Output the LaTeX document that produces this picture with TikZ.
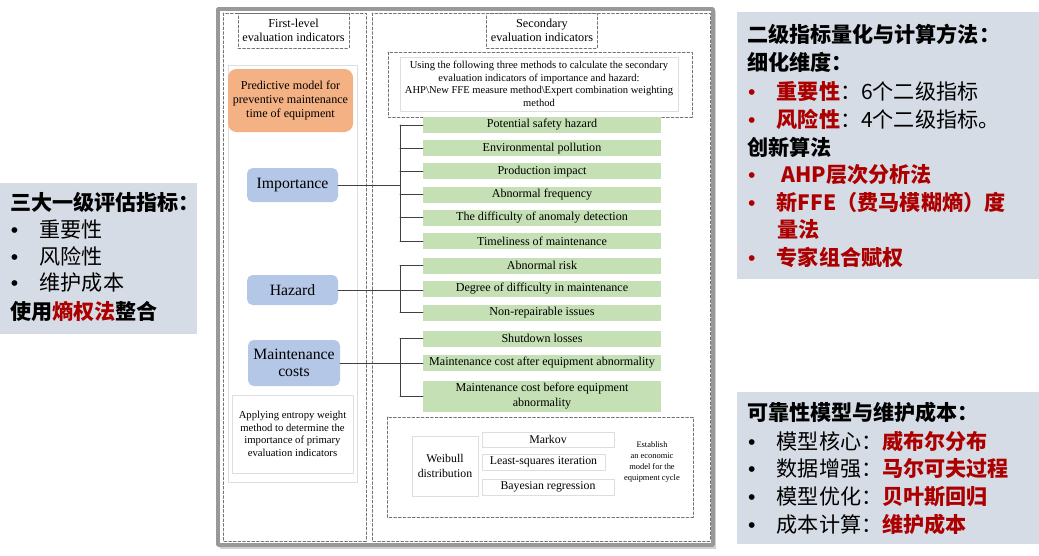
\documentclass[tikz,border=0pt]{standalone}
\usepackage{fontspec}
\setmainfont{Liberation Serif}
\newfontfamily\cjk{Noto Sans CJK SC}
\newfontfamily\dotfont{Liberation Sans}
\usetikzlibrary{positioning}
\definecolor{panelgray}{RGB}{214,220,229}
\definecolor{darkred}{RGB}{172,0,0}
\definecolor{greenfill}{RGB}{197,224,180}
\definecolor{bluefill}{RGB}{180,199,231}
\definecolor{orangefill}{RGB}{244,177,131}
\definecolor{thinline}{RGB}{222,222,222}
\newcommand\itemdot[1]{\makebox[0.72cm][l]{{\dotfont\mdseries #1}}}

\begin{document}
\begin{tikzpicture}[x=0.025cm,y=-0.025cm,line cap=round,line join=round,
    every node/.style={inner sep=0pt,outer sep=0pt},
    dashframe/.style={draw=black!55,line width=0.45pt,dash pattern=on 2pt off 1.3pt},
    headbox/.style={dashframe,minimum width=111*\px,minimum height=35*\px,align=center,font=\fontsize{8.7}{10}\selectfont},
    thinbox/.style={draw=thinline,line width=0.5pt,fill=white,align=center},
    greenbox/.style={fill=greenfill,minimum width=238*\px,minimum height=16*\px,align=center,font=\fontsize{8.6}{10.7}\selectfont},
    firstbox/.style={fill=bluefill,rounded corners=4pt,minimum width=91*\px,align=center,font=\fontsize{11.2}{12}\selectfont},
    link/.style={draw=black!75,line width=0.6pt},
    cn/.style={anchor=base west,font=\cjk\fontsize{15}{17}\selectfont},
    cnb/.style={anchor=base west,font=\cjk\bfseries\fontsize{15}{17}\selectfont}]
  \def\px{0.025cm}
  \useasboundingbox (0,0) rectangle (1039,555);
  % side panels
  \fill[panelgray] (0,183) rectangle (197,334);
  \fill[panelgray] (737,12) rectangle (1039,279);
  \fill[panelgray] (737,392) rectangle (1039,544);
  % framed figure
  \fill[black!18] (220,11) rectangle (716,549);
  \draw[draw=black!40,line width=2.6pt,fill=white] (218,9) rectangle (713,545);
  \draw[dashframe] (223,13) rectangle (366,541);
  \draw[dashframe] (372,13) rectangle (710,541);
  \node[headbox] (hd1) at (293.5,30.5) {First-level\\evaluation indicators};
  \node[headbox] (hd2) at (542,30.5) {Secondary\\evaluation indicators};
  % first-level column
  \draw[thinline,line width=0.5pt] (228,65) rectangle (357,482);
  \node[fill=orangefill,rounded corners=6pt,minimum width=125*\px,minimum height=63*\px,align=center,
        font=\fontsize{8.6}{10}\selectfont] (pred) at (290.5,100.5) {Predictive model for\\preventive maintenance\\time of equipment};
  \node[firstbox,minimum height=34*\px] (imp) at (292.5,185) {Importance};
  \node[firstbox,minimum height=30*\px] (haz) at (292.5,290) {Hazard};
  \node[firstbox,minimum width=92*\px,minimum height=46*\px] (cost) at (294,363) {Maintenance\\costs};
  \node[thinbox,minimum width=121*\px,minimum height=78*\px,font=\fontsize{7.6}{9}\selectfont] (ent) at (292.5,434)
    {Applying entropy weight\\method to determine the\\importance of primary\\evaluation indicators};
  % secondary column
  \draw[dashframe] (388,52) rectangle (692,117);
  \node[thinbox,minimum width=278*\px,minimum height=54*\px,font=\fontsize{7.5}{8.9}\selectfont] (meth) at (539,84)
    {Using the following three methods to calculate the secondary\\evaluation indicators of importance and hazard:\\AHP\textbackslash New FFE measure method\textbackslash Expert combination weighting\\method};
  \foreach \t [count=\i, evaluate=\i as \y using 125+(\i-1)*23.2] in
    {Potential safety hazard,Environmental pollution,Production impact,Abnormal frequency,
     The difficulty of anomaly detection,Timeliness of maintenance}
    \node[greenbox] (g\i) at (542,\y) {\t};
  \foreach \t [count=\i, evaluate=\i as \y using 265.5+(\i-1)*23.5] in
    {Abnormal risk,Degree of difficulty in maintenance,Non-repairable issues}
    \node[greenbox] (h\i) at (542,\y) {\t};
  \node[greenbox] (c1) at (542,338.5) {Shutdown losses};
  \node[greenbox] (c2) at (542,363) {Maintenance cost after equipment abnormality};
  \node[greenbox,minimum height=31*\px] (c3) at (542,396.5) {Maintenance cost before equipment\\abnormality};
  % connectors
  \coordinate (bx) at (400,0);
  \draw[link] (imp.east) -- (imp.east -| bx);
  \draw[link] (g1.west -| bx) -- (g6.west -| bx);
  \foreach \i in {1,...,6} \draw[link] (g\i.west -| bx) -- (g\i.west);
  \draw[link] (haz.east) -- (haz.east -| h2.west);
  \draw[link] (h1.west -| bx) -- (h3.west -| bx);
  \foreach \i in {1,3} \draw[link] (h\i.west -| bx) -- (h\i.west);
  \draw[link] (cost.east) -- (cost.east -| c2.west);
  \draw[link] (c1.west -| bx) -- (c3.west -| bx);
  \foreach \i in {1,3} \draw[link] (c\i.west -| bx) -- (c\i.west);
  % reliability model
  \draw[dashframe] (387,417) rectangle (693,517);
  \node[thinbox,minimum width=66*\px,minimum height=60*\px,font=\fontsize{8.4}{10.7}\selectfont] (weib) at (445,466) {Weibull\\distribution};
  \node[thinbox,minimum width=132*\px,minimum height=15*\px,font=\fontsize{8.4}{10}\selectfont] (markov) at (548,439.5) {Markov};
  \node[thinbox,minimum width=123*\px,minimum height=16*\px,font=\fontsize{8.4}{10}\selectfont] (lsq) at (543.5,462) {Least-squares iteration};
  \node[thinbox,minimum width=132*\px,minimum height=16*\px,font=\fontsize{8.4}{10}\selectfont] (bayes) at (548,487) {Bayesian regression};
  \node[align=center,font=\fontsize{6}{7.8}\selectfont] (estab) at (652,462) {Establish\\an economic\\model for the\\equipment cycle};
  % left notes
  \node[cnb] (l1) at (10,210.5) {三大一级评估指标：};
  \node[cn] (l2) at (11,237.5) {\itemdot{•}重要性};
  \node[cn] (l3) at (11,264.5) {\itemdot{•}风险性};
  \node[cn] (l4) at (11,290.5) {\itemdot{•}维护成本};
  \node[cnb] (l5) at (10,319.5) {使用\textcolor{darkred}{熵权法}整合};
  % right notes, top
  \node[cnb] (r1) at (747,42.5) {二级指标量化与计算方法：};
  \node[cnb] (r2) at (747,70.5) {细化维度：};
  \node[cn] (r3) at (748,99.5) {\itemdot{\textcolor{darkred}{•}}\textcolor{darkred}{\bfseries 重要性}：6个二级指标};
  \node[cn] (r4) at (748,127.5) {\itemdot{\textcolor{darkred}{•}}\textcolor{darkred}{\bfseries 风险性}：4个二级指标。};
  \node[cnb] (r5) at (747,155.5) {创新算法};
  \node[cnb,text=darkred] (r6) at (748,182.5) {\itemdot{•} AHP层次分析法};
  \node[cnb,text=darkred] (r7) at (748,210.5) {\itemdot{•}新FFE（费马模糊熵）度};
  \node[cnb,text=darkred] (r8) at (777,237.5) {量法};
  \node[cnb,text=darkred] (r9) at (748,265.5) {\itemdot{•}专家组合赋权};
  % right notes, bottom
  \node[cnb] (b1) at (747,420.5) {可靠性模型与维护成本：};
  \node[cn] (b2) at (748,449.5) {\itemdot{•}模型核心：\textcolor{darkred}{\bfseries 威布尔分布}};
  \node[cn] (b3) at (748,476.5) {\itemdot{•}数据增强：\textcolor{darkred}{\bfseries 马尔可夫过程}};
  \node[cn] (b4) at (748,504.5) {\itemdot{•}模型优化：\textcolor{darkred}{\bfseries 贝叶斯回归}};
  \node[cn] (b5) at (748,532.5) {\itemdot{•}成本计算：\textcolor{darkred}{\bfseries 维护成本}};
\end{tikzpicture}
\end{document}
